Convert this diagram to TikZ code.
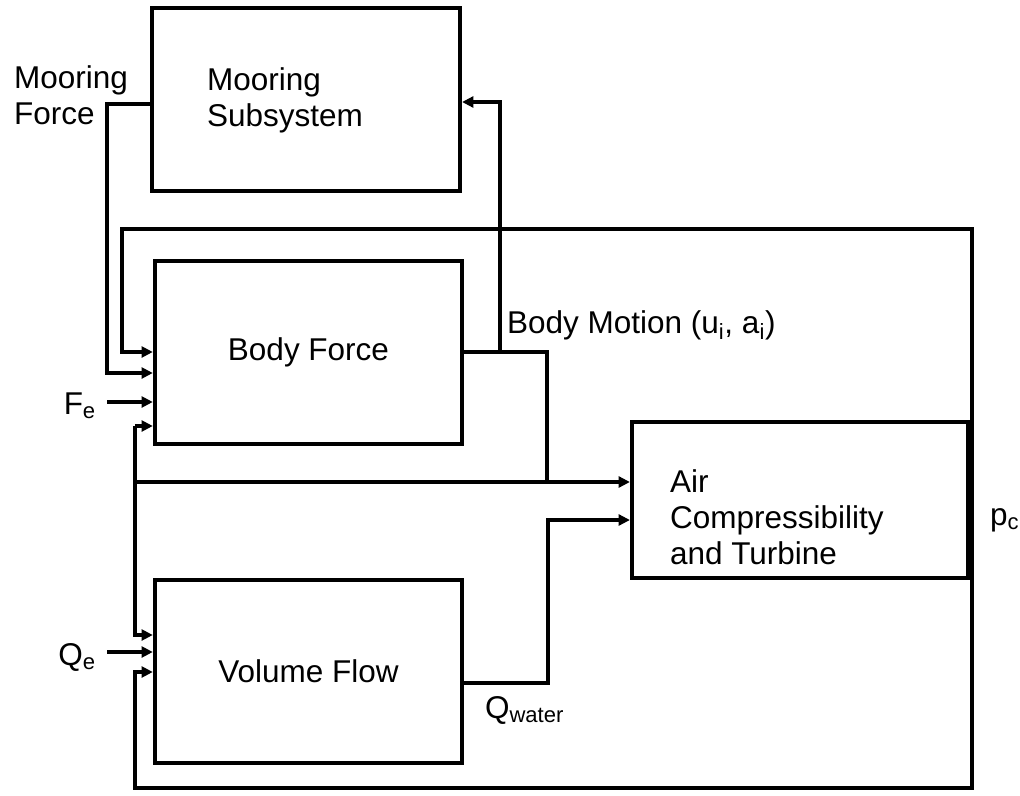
\documentclass[tikz,border=0pt]{standalone}
\usepackage{fontspec}
\setmainfont{Liberation Sans}
\usetikzlibrary{arrows.meta,positioning}

\begin{document}
\begin{tikzpicture}[x=0.025cm, y=-0.025cm, line width=2.9pt, >={Triangle[length=2.8mm, width=2.7mm]},
  block/.style={draw, rectangle, inner sep=0pt},
  lbl/.style={font=\fontsize{22.4}{25.5}\selectfont, inner sep=0pt}]
\useasboundingbox (0,0) rectangle (1020,796);
% blocks
\node[block, minimum width=7.7cm, minimum height=4.58cm] (ms) at (306,99.5) {};
\node[block, minimum width=7.68cm, minimum height=4.58cm, lbl] (bf) at (308.5,352.5) {Body Force};
\node[block, minimum width=8.4cm, minimum height=3.9cm] (ac) at (800,500) {};
\node[block, minimum width=7.68cm, minimum height=4.58cm, lbl] (vf) at (308.5,671.5) {Volume Flow};
\node[lbl, align=left, anchor=west] (mstext) at (205,100) {Mooring\\Subsystem};
\node[lbl, align=left, anchor=west] (actext) at (668,517) {Air\\Compressibility\\and Turbine};
% outside labels
\node[lbl, align=left, anchor=west] (mf) at (12,95) {Mooring\\Force};
\node[lbl, anchor=east] (fe) at (98,406) {F\textsubscript{e}};
\node[lbl, anchor=east] (qe) at (98,657) {Q\textsubscript{e}};
\node[lbl, anchor=west] (pc) at (988,520) {p\textsubscript{c}};
\node[lbl, anchor=south west] (bmtext) at (505,342) {Body Motion (u\textsubscript{i}, a\textsubscript{i})};
\node[lbl, anchor=north west] (qw) at (483,694) {Q\textsubscript{water}};
% turning points
\coordinate (pcr) at (972,516);
\coordinate (bm) at (500,352);
\coordinate (bmr) at (547,352);
\coordinate (mfl) at (107,104);
\coordinate (fel) at (107,402);
\coordinate (qel) at (107,652);
\coordinate (top) at (122,229);
\coordinate (bot) at (135,788);
\coordinate (jn) at (135,426);
\coordinate (jv) at (135,635);
\coordinate (qwr) at (548,683);
% connectors
\draw (ac.east |- pcr) -- (pcr);
\draw[->] (pcr) |- (top) |- (bf.west |- 0,352);
\draw[->] (pcr) |- (bot) |- (vf.west |- 0,672);
\draw[->] (ms.west |- mfl) -- (mfl) |- (bf.west |- 0,373);
\draw[->] (fel) -- (bf.west |- fel);
\draw[->] (qel) -- (vf.west |- qel);
\draw[->] (jn) -- (bf.west |- jn);
\draw[->] (jn) -- (jv) -- (vf.west |- jv);
\draw[->] (jn |- 0,482) -- (ac.west |- 0,482);
\draw (bf.east |- bm) -- (bmr) -- (bmr |- 0,482);
\draw[->] (bm) |- (ms.east |- 0,102);
\draw[->] (vf.east |- qwr) -- (qwr) |- (ac.west |- 0,520);
\end{tikzpicture}
\end{document}
